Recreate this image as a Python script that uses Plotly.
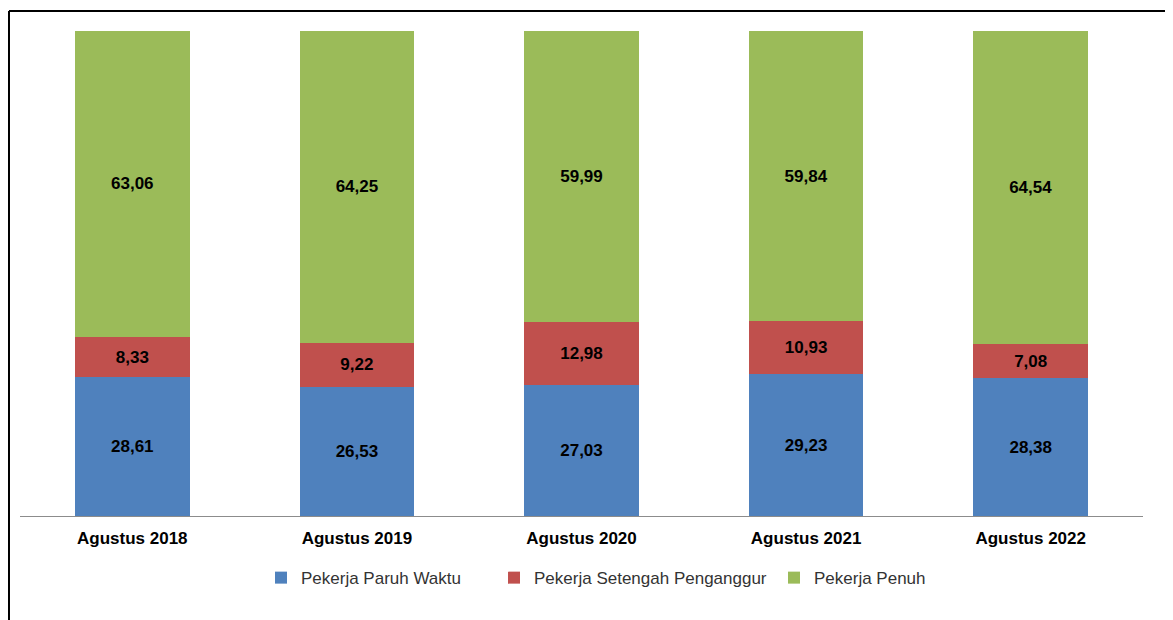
import plotly.graph_objects as go

# data
periods = ["Agustus 2018", "Agustus 2019", "Agustus 2020", "Agustus 2021", "Agustus 2022"]
paruh_waktu = [28.61, 26.53, 27.03, 29.23, 28.38]
setengah_penganggur = [8.33, 9.22, 12.98, 10.93, 7.08]
penuh = [63.06, 64.25, 59.99, 59.84, 64.54]

series = [
    ("Pekerja Paruh Waktu", paruh_waktu, "#4F81BD", "legend", 0.2146),
    ("Pekerja Setengah Penganggur", setengah_penganggur, "#C0504D", "legend2", 0.4221),
    ("Pekerja Penuh", penuh, "#9BBB59", "legend3", 0.6714),
]


def fmt(v):
    return f"{v:.2f}".replace(".", ",")


fig = go.Figure()
legends = {}
for name, vals, color, leg, lx in series:
    fig.add_trace(go.Bar(
        x=periods,
        y=vals,
        name=name,
        legend=leg,
        marker=dict(color=color, line=dict(width=0)),
        text=[fmt(v) for v in vals],
        textposition="inside",
        insidetextanchor="middle",
        textangle=0,
        insidetextfont=dict(family="Liberation Sans, Arial", size=17, color="black", weight="bold"),
        hoverinfo="skip",
    ))
    legends[leg] = dict(
        orientation="h",
        x=lx,
        xanchor="left",
        y=-0.128,
        yanchor="middle",
        font=dict(size=17, color="#333333"),
        bgcolor="rgba(0,0,0,0)",
    )

fig.update_layout(
    barmode="stack",
    bargap=0.49,
    width=1165,
    height=612,
    margin=dict(l=12, r=30, t=23, b=104),
    paper_bgcolor="white",
    plot_bgcolor="white",
    font=dict(family="Liberation Sans, Arial", color="black"),
    showlegend=True,
    xaxis=dict(
        showline=True,
        linecolor="#8c8c8c",
        linewidth=1,
        ticks="",
        ticklabelstandoff=7,
        tickfont=dict(size=17, weight="bold", color="black"),
        showgrid=False,
    ),
    yaxis=dict(
        range=[0, 100],
        visible=False,
        showgrid=False,
    ),
    **legends,
)

# outer frame (only left and top edges visible in the picture)
fig.add_shape(type="line", xref="paper", yref="paper",
              x0=-0.0098, x1=-0.0098, y0=1.0412, y1=-0.23,
              line=dict(color="black", width=2))
fig.add_shape(type="line", xref="paper", yref="paper",
              x0=-0.0098, x1=1.03, y0=1.0412, y1=1.0412,
              line=dict(color="black", width=2))

fig.write_html("out.html")
